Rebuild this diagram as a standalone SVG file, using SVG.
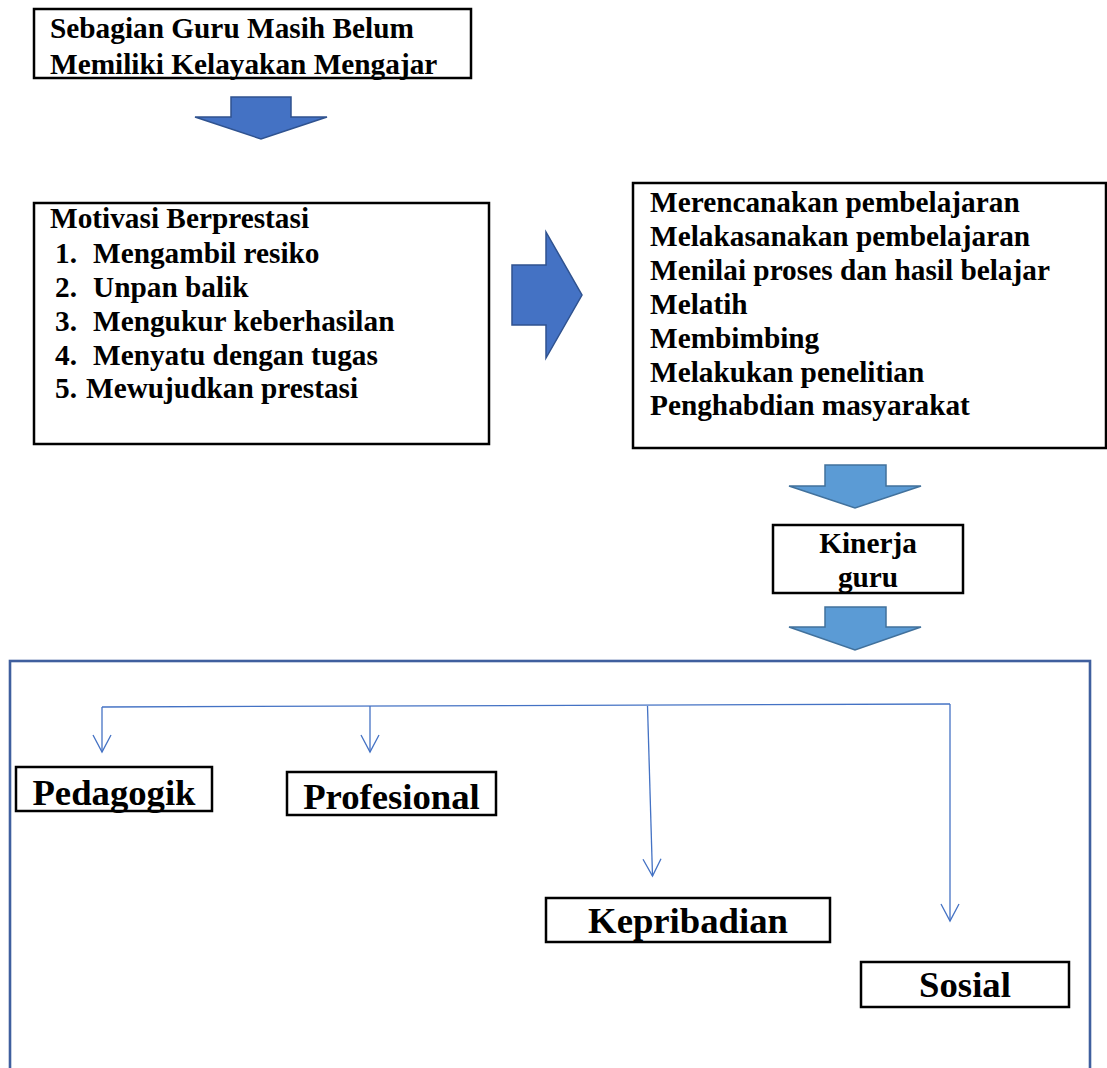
<svg xmlns="http://www.w3.org/2000/svg" width="1107" height="1068" viewBox="0 0 1107 1068">
<style>
.box{fill:#fff;stroke:#000;stroke-width:2.5}
.t{font-family:"Liberation Serif","Times New Roman",serif;font-weight:bold;font-size:29.3px;fill:#000}
.lbl{font-family:"Liberation Serif","Times New Roman",serif;font-weight:bold;font-size:36.7px;fill:#000;text-anchor:middle}
.dark{fill:#4472C4;stroke:#2F528F;stroke-width:1.5}
.light{fill:#5B9BD5;stroke:#41719C;stroke-width:1.5}
.con{fill:none;stroke:#4472C4;stroke-width:1.3}
</style>
<defs>
<marker id="ah" markerUnits="userSpaceOnUse" markerWidth="22" markerHeight="22" viewBox="0 0 22 22" refX="19" refY="11" orient="auto">
<path d="M2,2 L19,11 L2,20" fill="none" stroke="#4472C4" stroke-width="1.3"/>
</marker>
</defs>
<rect width="1107" height="1068" fill="#fff"/>

<g id="top">
<rect class="box" x="34" y="9" width="437" height="69"/>
<text class="t" x="50" y="38">Sebagian Guru Masih Belum</text>
<text class="t" x="50" y="74">Memiliki Kelayakan Mengajar</text>
</g>

<g id="arrow-top"><polygon class="dark" points="231,97 291,97 291,117 327,117 261,139 195,117 231,117"/></g>

<g id="motivasi">
<rect class="box" x="34" y="203" width="455" height="241"/>
<text class="t" x="50" y="228">Motivasi Berprestasi</text>
<text class="t" x="55" y="263">1.</text><text class="t" x="93" y="263">Mengambil resiko</text>
<text class="t" x="55" y="297">2.</text><text class="t" x="93" y="297">Unpan balik</text>
<text class="t" x="55" y="331">3.</text><text class="t" x="93" y="331">Mengukur keberhasilan</text>
<text class="t" x="55" y="365">4.</text><text class="t" x="93" y="365">Menyatu dengan tugas</text>
<text class="t" x="55" y="398">5.</text><text class="t" x="86" y="398">Mewujudkan prestasi</text>
</g>

<g id="arrow-right"><polygon class="dark" points="512,265 546,265 546,232 582,295 546,358 546,325 512,325"/></g>

<g id="tugas">
<rect class="box" x="633" y="183" width="473" height="265"/>
<text class="t" x="650" y="212">Merencanakan pembelajaran</text>
<text class="t" x="650" y="246">Melakasanakan pembelajaran</text>
<text class="t" x="650" y="280">Menilai proses dan hasil belajar</text>
<text class="t" x="650" y="314">Melatih</text>
<text class="t" x="650" y="348">Membimbing</text>
<text class="t" x="650" y="382">Melakukan penelitian</text>
<text class="t" x="650" y="415">Penghabdian masyarakat</text>
</g>

<g id="arrow-down-1"><polygon class="light" points="825,465 886,465 886,486 921,486 855,508 789,486 825,486"/></g>

<g id="kinerja">
<rect class="box" x="773" y="525" width="190" height="68"/>
<text class="t" x="868" y="553" text-anchor="middle">Kinerja</text>
<text class="t" x="868" y="587" text-anchor="middle">guru</text>
</g>

<g id="arrow-down-2"><polygon class="light" points="825,607 886,607 886,627 921,627 855,650 789,627 825,627"/></g>

<g id="frame"><rect x="10" y="661" width="1080" height="430" fill="none" stroke="#3F5F9E" stroke-width="2.6"/></g>

<g id="connectors">
<path class="con" d="M102,707 L950,704"/>
<path class="con" d="M102,707 L102,752" marker-end="url(#ah)"/>
<path class="con" d="M370,706 L370,752" marker-end="url(#ah)"/>
<path class="con" d="M647.5,706 L652.5,876" marker-end="url(#ah)"/>
<path class="con" d="M950,704 L950,921" marker-end="url(#ah)"/>
</g>

<g id="pedagogik">
<rect class="box" x="16" y="767" width="196" height="44"/>
<text class="lbl" x="114" y="805">Pedagogik</text>
</g>
<g id="profesional">
<rect class="box" x="287" y="772" width="209" height="43"/>
<text class="lbl" x="391.5" y="809">Profesional</text>
</g>
<g id="kepribadian">
<rect class="box" x="546" y="898" width="284" height="44"/>
<text class="lbl" x="688" y="933">Kepribadian</text>
</g>
<g id="sosial">
<rect class="box" x="861" y="962" width="208" height="45"/>
<text class="lbl" x="965" y="997">Sosial</text>
</g>
</svg>
